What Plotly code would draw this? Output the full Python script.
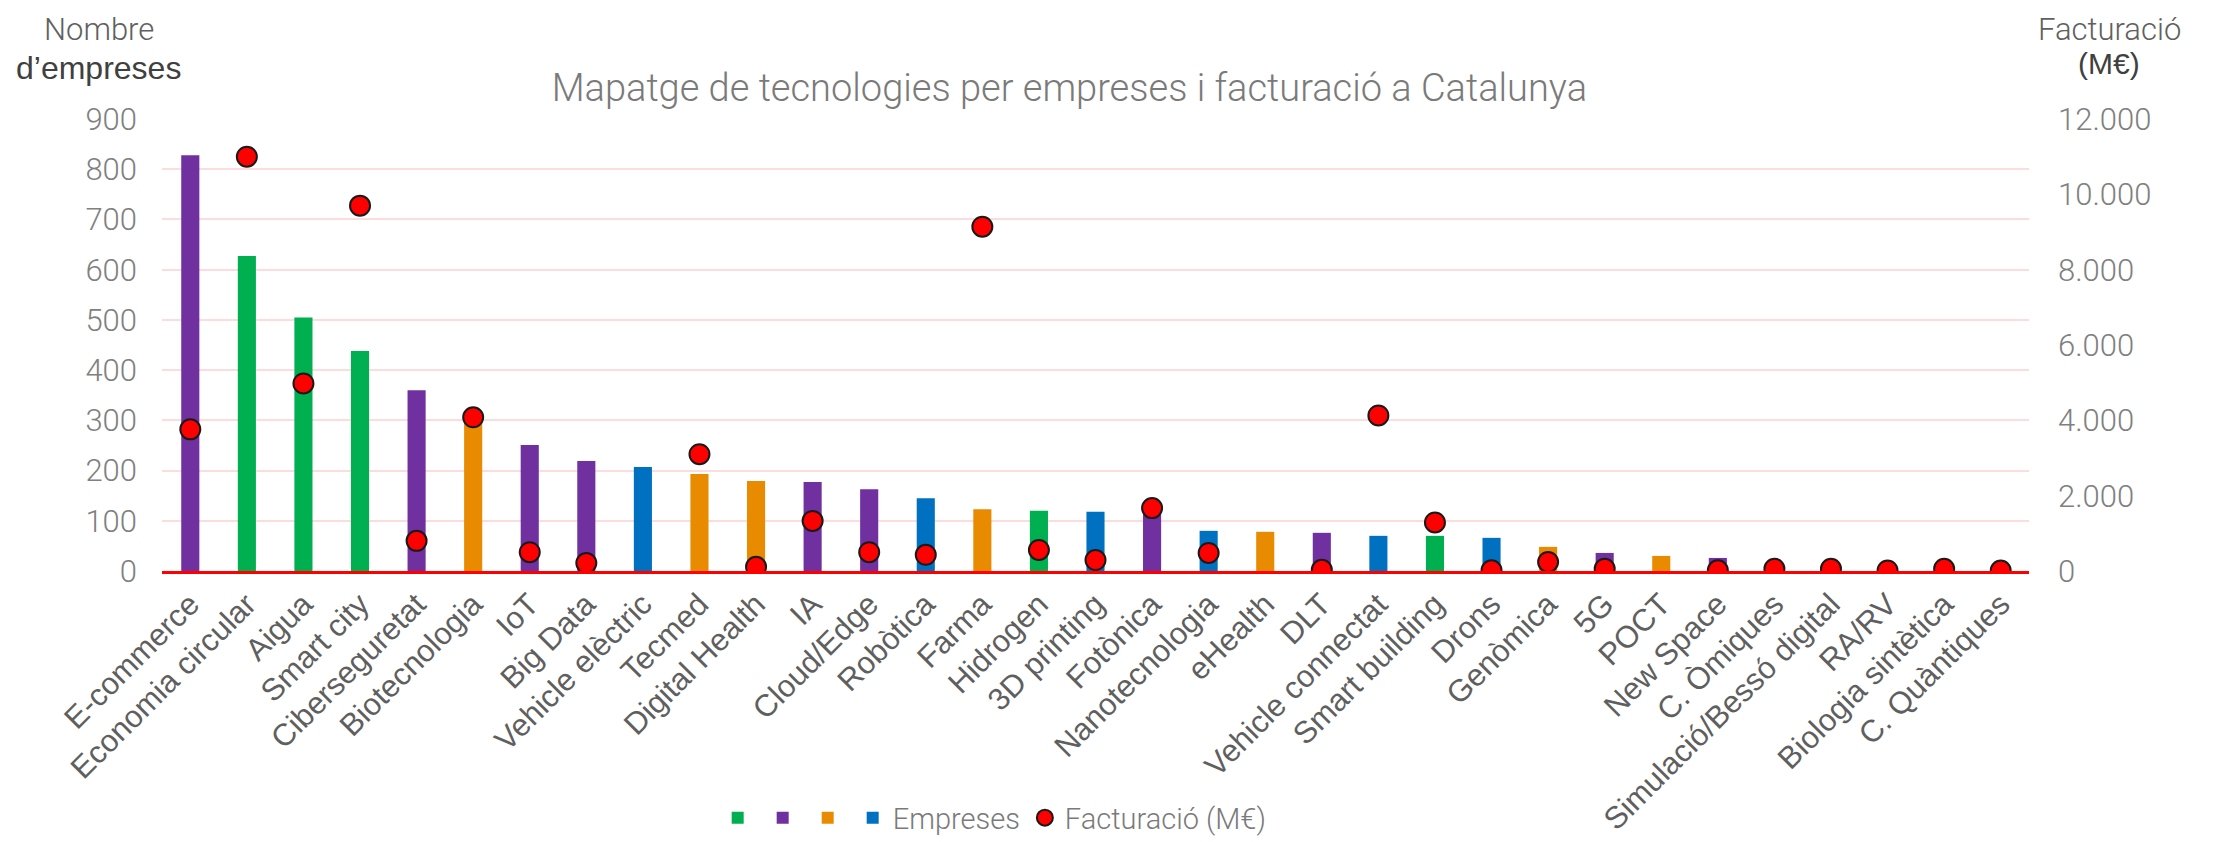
import plotly.graph_objects as go

categories = ["E-commerce", "Economia circular", "Aigua", "Smart city", "Ciberseguretat",
              "Biotecnologia", "IoT", "Big Data", "Vehicle elèctric", "Tecmed",
              "Digital Health", "IA", "Cloud/Edge", "Robòtica", "Farma", "Hidrogen",
              "3D printing", "Fotònica", "Nanotecnologia", "eHealth", "DLT",
              "Vehicle connectat", "Smart building", "Drons", "Genòmica", "5G", "POCT",
              "New Space", "C. Òmiques", "Simulació/Bessó digital", "RA/RV",
              "Biologia sintètica", "C. Quàntiques"]
empreses = [828, 627, 505, 438, 360, 305, 251, 219, 207, 193, 179, 177, 163, 145, 123, 120,
            118, 128, 80, 78, 76, 70, 70, 66, 48, 36, 30, 26, 10, 6, 5, 10, 3]
grup = ["lila", "verd", "verd", "verd", "lila", "taronja", "lila", "lila", "blau", "taronja",
        "taronja", "lila", "lila", "blau", "taronja", "verd", "blau", "lila", "blau", "taronja",
        "lila", "blau", "verd", "blau", "taronja", "lila", "taronja", "lila", "lila", "lila",
        "lila", "taronja", "lila"]
facturacio = [3760, 11000, 4980, 9700, 800, 4080, 500, 210, None, 3100, 110, 1330, 500, 430,
              9140, 560, 290, 1670, 480, None, 30, 4130, 1290, 20, 240, 60, None, 20, 60, 60,
              15, 60, 10]

colors = {"verd": "#00B050", "lila": "#7030A0", "taronja": "#E88B00", "blau": "#0070C0"}
legend_names = {"verd": "", "lila": "", "taronja": "", "blau": "Empreses"}

LIGHT = "Roboto, 'Liberation Sans', sans-serif"
REG = "'Liberation Sans', Arial, sans-serif"

fig = go.Figure()
for g in ["verd", "lila", "taronja", "blau"]:
    ys = [v if gg == g else None for v, gg in zip(empreses, grup)]
    fig.add_trace(go.Bar(x=categories, y=ys, name=legend_names[g],
                         marker=dict(color=colors[g], line=dict(width=0)),
                         yaxis="y"))

fig.add_trace(go.Scatter(x=categories, y=facturacio, mode="markers", name="Facturació (M€)",
                         yaxis="y2",
                         marker=dict(color="#FF0000", size=20,
                                     line=dict(color="#1a1a1a", width=2))))

tickfont = dict(family=LIGHT, size=31, color="#808080", weight=300)

fig.update_layout(
    width=2213, height=842,
    margin=dict(l=154, r=192, t=111, b=279, autoexpand=False),
    paper_bgcolor="white", plot_bgcolor="white",
    separators=",.",
    barmode="overlay", bargap=0.68,
    title=dict(text="Mapatge de tecnologies per empreses i facturació a Catalunya",
               x=0.486, xref="paper", xanchor="center", y=1 - 80 / 842, yanchor="middle",
               font=dict(family=LIGHT, size=38, color="#7a7a7a", weight=300)),
    xaxis=dict(type="category", range=[-0.5, 32.5], tickangle=-45, showgrid=False,
               showline=True, linecolor="#FF0000", linewidth=2.5, automargin=False,
               ticks="", tickfont=dict(family=REG, size=31, color="#5f5f5f")),
    yaxis=dict(range=[0, 900], dtick=100, showgrid=True, gridcolor="#FCDCDC", gridwidth=2,
               zeroline=False, showline=False, tickfont=tickfont, ticklabelstandoff=24,
               automargin=False),
    yaxis2=dict(range=[0, 12000], dtick=2000, overlaying="y", side="right", showgrid=False,
                zeroline=False, showline=False, tickformat=",", tickfont=tickfont,
                ticklabelstandoff=28, automargin=False),
    legend=dict(orientation="h", x=0.446, y=-0.546, xanchor="center", yanchor="middle",
                font=dict(family=LIGHT, size=29, color="#7a7a7a", weight=300),
                itemwidth=30, bgcolor="rgba(0,0,0,0)"),
    showlegend=True,
)

annots = [
    dict(text="Nombre", x=-0.034, y=1.197, font=dict(family=LIGHT, size=31, color="#606060", weight=300)),
    dict(text="d’empreses", x=-0.034, y=1.113, font=dict(family=REG, size=32, color="#404040")),
    dict(text="Facturació", x=1.043, y=1.199, font=dict(family=LIGHT, size=31, color="#606060", weight=300)),
    dict(text="(M€)", x=1.043, y=1.122, font=dict(family=REG, size=30, color="#404040")),
]
for a in annots:
    fig.add_annotation(xref="paper", yref="paper", showarrow=False, xanchor="center",
                       yanchor="middle", **a)

fig.write_html("out.html")
